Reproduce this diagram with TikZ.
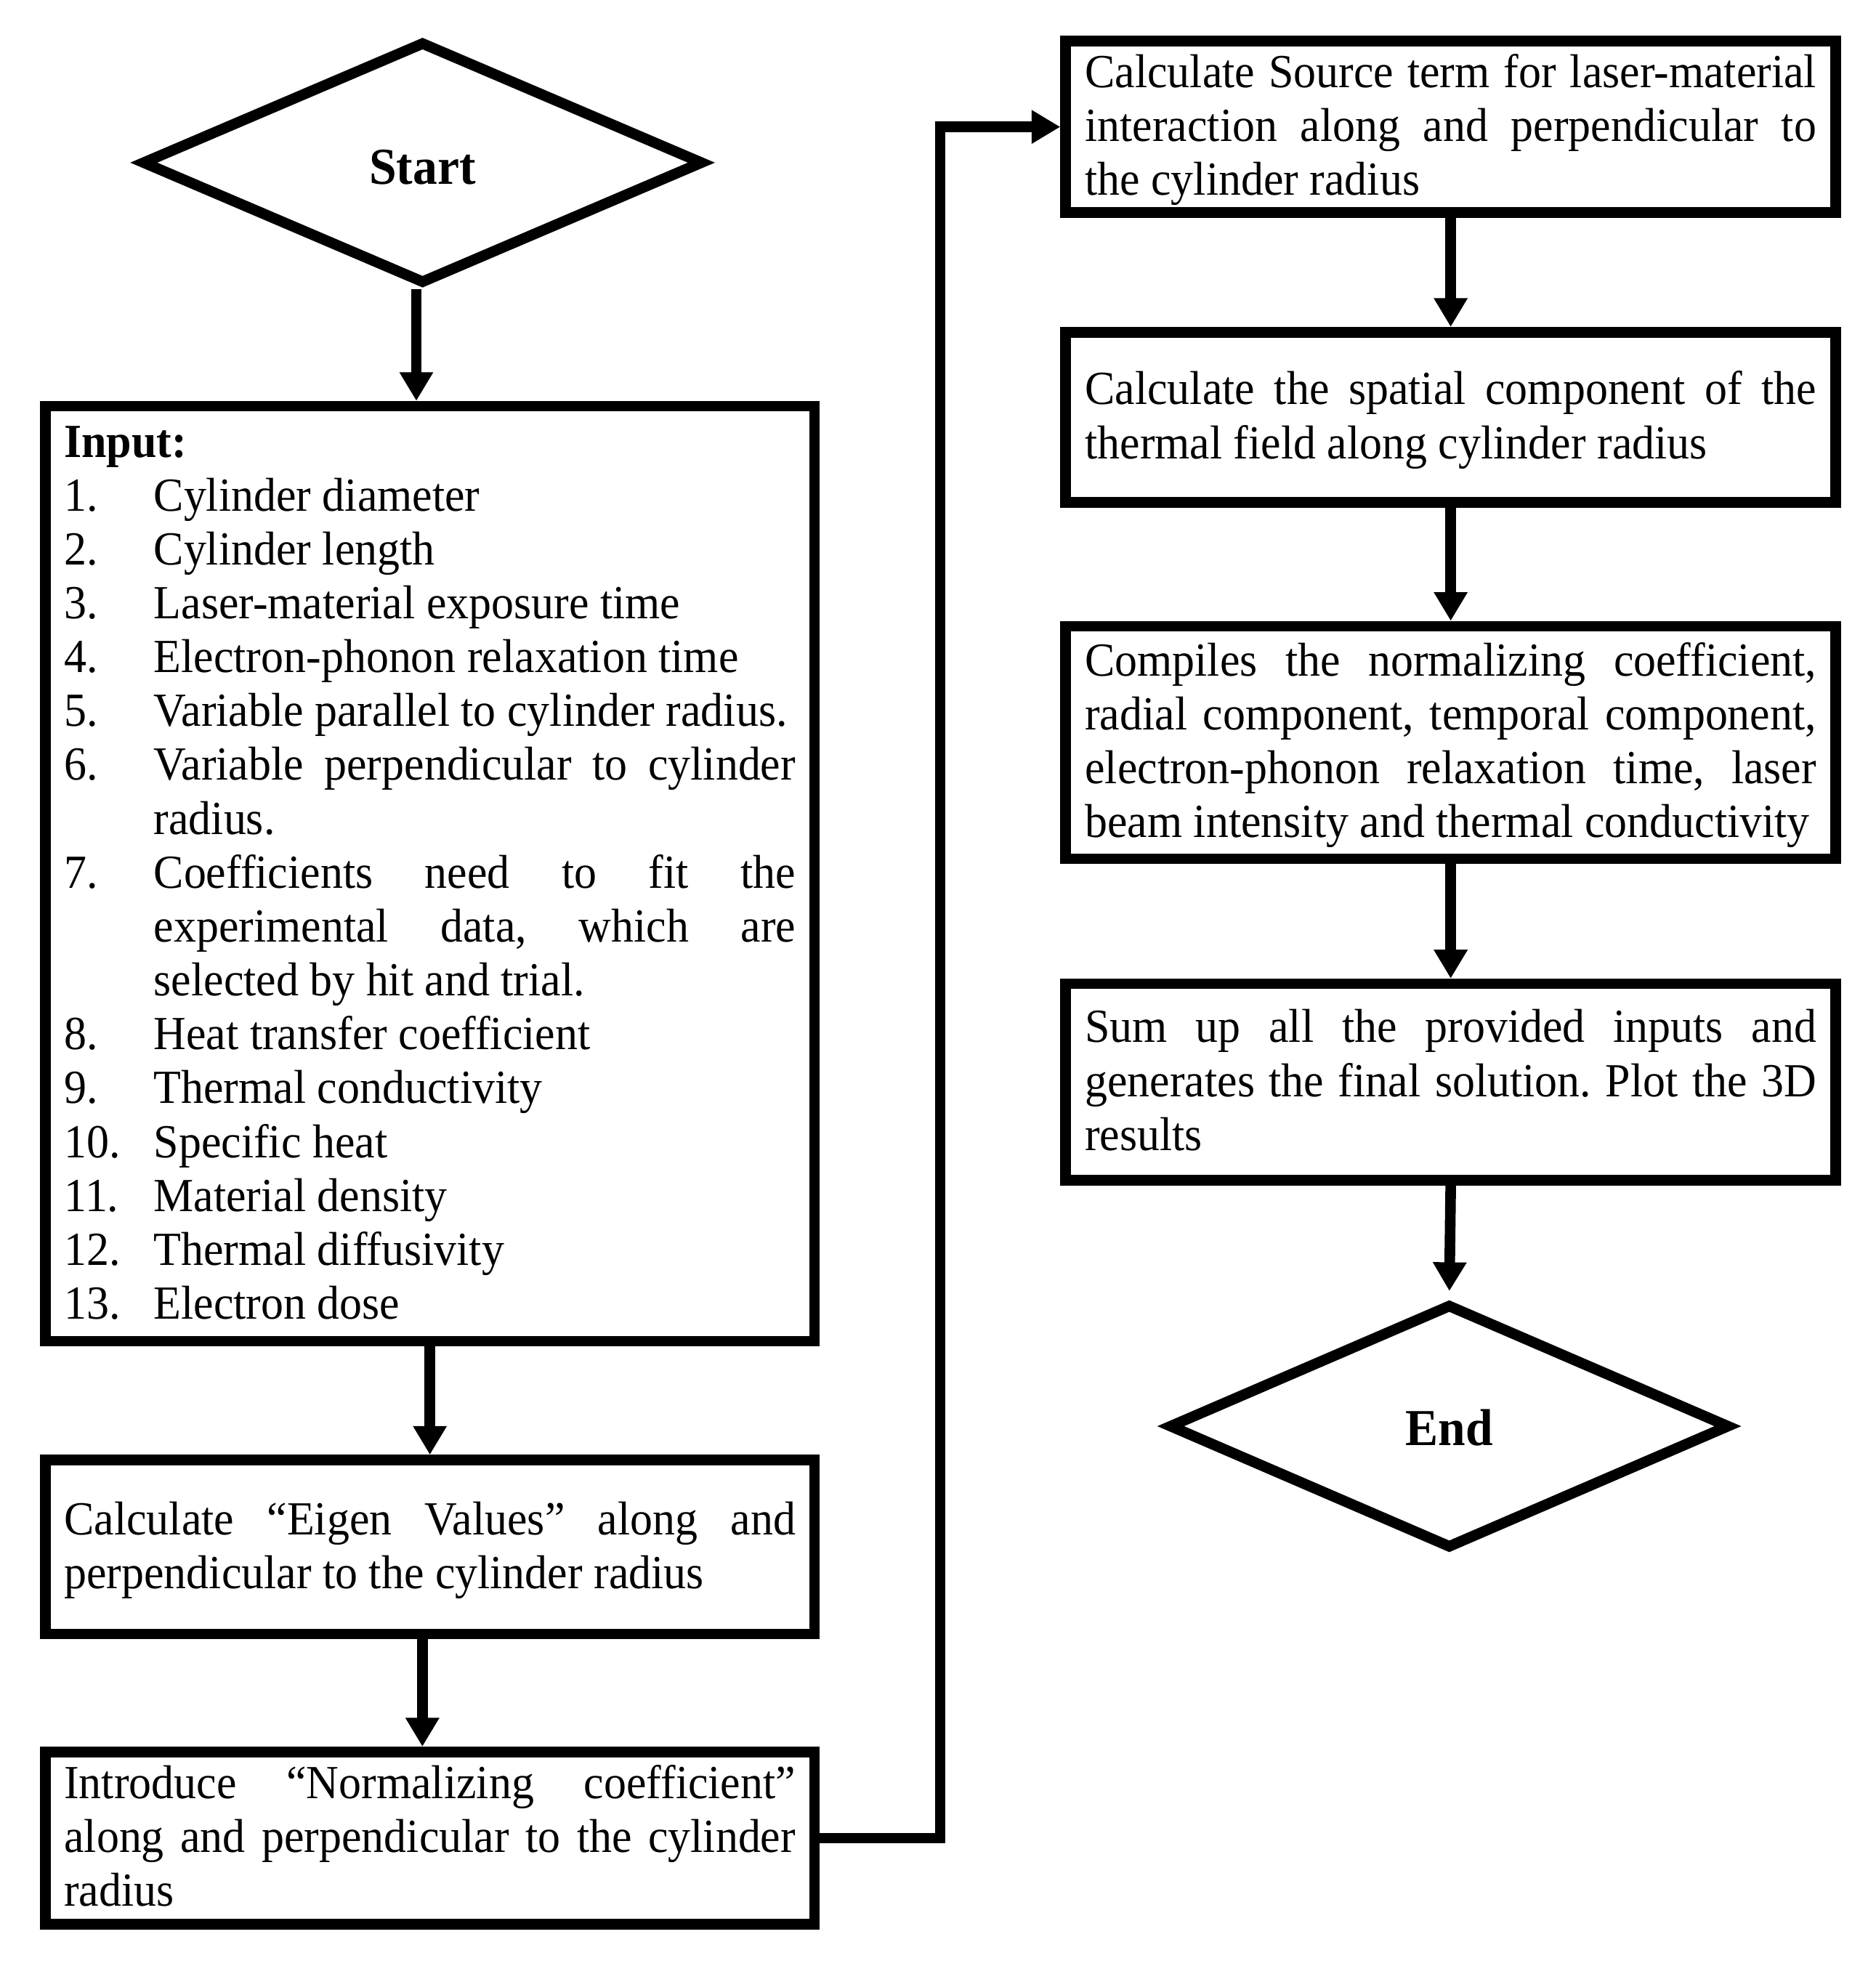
\documentclass[tikz,border=0pt]{standalone}
\usepackage{fontspec}
\setmainfont[FakeStretch=0.947]{Liberation Serif}
\usetikzlibrary{shapes.geometric,arrows.meta}
\hyphenpenalty=10000
\exhyphenpenalty=10000
\tolerance=10000
\hbadness=10000
\frenchspacing
\setlength{\parindent}{0pt}
\newcommand\itm[2]{\noindent\hangindent=71.7pt\hangafter=1 \makebox[71.7pt][l]{#1}#2\par}
\newcommand\st{\rule[-10.05pt]{0pt}{43.1pt}}
\begin{document}
\frenchspacing
\begin{tikzpicture}[x=1pt,y=-1pt,
  lw/.style={line width=8.5pt},
  box/.style={draw, lw, rectangle, align=justify, inner ysep=0pt,
    font=\fontsize{38}{43.1}\selectfont\frenchspacing},
  leftbox/.style={box, minimum width=615.2pt, text width=585pt, inner xsep=15.1pt},
  rightbox/.style={box, minimum width=616pt, text width=585pt, inner xsep=15.5pt},
  term/.style={draw, lw, diamond, shape aspect=2.3, inner sep=0pt,
    text depth=0pt, font=\fontsize{41.5}{48}\selectfont\bfseries},
  arr/.style={lw, -{Triangle[length=23pt,width=25.5pt]}}]
\fill[white] (0,0) rectangle (1500,1572.6);
\useasboundingbox (0,0) rectangle (1500,1572.6);

\node[term, minimum width=449.5pt, minimum height=194pt, text height=35pt] (start) at (338,130.1) {Start};

\node[leftbox, minimum height=747.8pt] (input) at (343.85,698.85) {%
\st\textbf{Input:}\par
\itm{1.}{Cylinder diameter}
\itm{2.}{Cylinder length}
\itm{3.}{Laser-material exposure time}
\itm{4.}{Electron-phonon relaxation time}
\itm{5.}{Variable parallel to cylinder radius.}
\itm{6.}{Variable perpendicular to cylinder\linebreak radius.}
\itm{7.}{Coefficients need to fit the\linebreak experimental data, which are\linebreak selected by hit and trial.}
\itm{8.}{Heat transfer coefficient}
\itm{9.}{Thermal conductivity}
\itm{10.}{Specific heat}
\itm{11.}{Material density}
\itm{12.}{Thermal diffusivity}
\itm{13.}{Electron dose\st}};

\node[leftbox, minimum height=139.2pt] (eigen) at (343.85,1237.5) {%
\st Calculate “Eigen Values” along and\linebreak perpendicular to the cylinder radius\st};

\node[leftbox, minimum height=137.9pt] (norm) at (343.85,1470.3) {%
\st Introduce “Normalizing coefficient”\linebreak along and perpendicular to the cylinder\linebreak radius\st};

\node[rightbox, minimum height=137.1pt] (source) at (1160.35,101.5) {%
\st Calculate Source term for laser-material\linebreak interaction along and perpendicular to\linebreak the cylinder radius\st};

\node[rightbox, minimum height=136pt] (spatial) at (1160.35,333.75) {%
\st Calculate the spatial component of the\linebreak thermal field along cylinder radius\st};

\node[rightbox, minimum height=186pt] (compiles) at (1160.35,593.9) {%
\st Compiles the normalizing coefficient,\linebreak radial component, temporal component,\linebreak electron-phonon relaxation time, laser\linebreak beam intensity and thermal conductivity\st};

\node[rightbox, minimum height=157.1pt] (sum) at (1160.35,865.5) {%
\st Sum up all the provided inputs and\linebreak generates the final solution. Plot the 3D\linebreak results\st};

\node[term, minimum width=449.1pt, minimum height=195.7pt, text height=31pt] (end) at (1159.2,1140.8) {End};

\coordinate (bend) at (752.1,0);

\draw[arr] ([xshift=-5pt]start.south) -- ([xshift=-5pt]start.south |- input.north);
\draw[arr] (input.south) -- (eigen.north);
\draw[arr] ([xshift=-6pt]eigen.south) -- ([xshift=-6pt]eigen.south |- norm.north);
\draw[arr, line join=miter] (norm.east) -- (norm.east -| bend) |- (source.west);
\draw[arr] (source.south) -- (spatial.north);
\draw[arr] (spatial.south) -- (compiles.north);
\draw[arr] (compiles.south) -- (sum.north);
\draw[arr, shorten >=6pt] (sum.south) -- (end.north);
\end{tikzpicture}
\end{document}
